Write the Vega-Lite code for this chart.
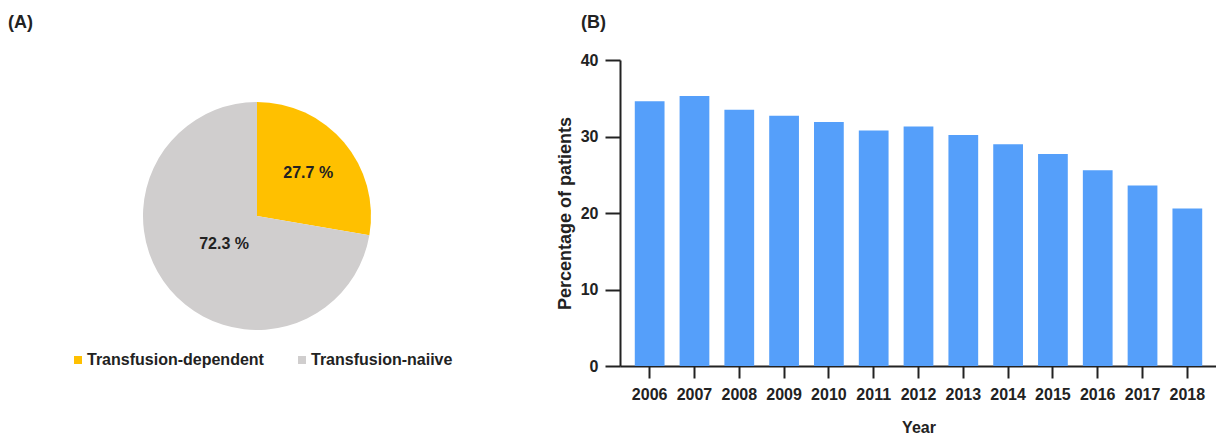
{
  "$schema": "https://vega.github.io/schema/vega-lite/v6.json",
  "padding": {"left": 8, "top": 14, "right": 0, "bottom": 0},
  "background": "white",
  "config": {
    "font": "Liberation Sans",
    "view": {"stroke": null},
    "title": {"fontSize": 18, "fontWeight": "bold", "color": "#222222", "anchor": "start", "frame": "group"}
  },
  "spacing": 50,
  "hconcat": [
    {
      "title": {"text": "(A)", "offset": 28},
      "width": 498,
      "height": 312,
      "data": {"values": [
        {"group": "Transfusion-dependent", "pct": 27.7, "label": "27.7 %", "order": 1},
        {"group": "Transfusion-naiive", "pct": 72.3, "label": "72.3 %", "order": 2}
      ]},
      "encoding": {
        "theta": {"field": "pct", "type": "quantitative", "stack": true},
        "order": {"field": "order", "type": "quantitative"}
      },
      "layer": [
        {
          "mark": {"type": "arc", "outerRadius": 114},
          "encoding": {
            "color": {
              "field": "group", "type": "nominal",
              "scale": {"domain": ["Transfusion-dependent", "Transfusion-naiive"], "range": ["#FFC000", "#D0CECE"]},
              "legend": {
                "title": null, "orient": "none", "direction": "horizontal",
                "legendX": 62, "legendY": 292,
                "symbolType": "square", "symbolSize": 64, "symbolStrokeWidth": 0,
                "labelFontSize": 16, "labelFontWeight": "bold", "labelColor": "#222222",
                "labelOffset": 1, "columnPadding": 30, "labelLimit": 300
              }
            }
          }
        },
        {
          "mark": {"type": "text", "radius": 67, "fontSize": 16, "fontWeight": "bold", "color": "#222222"},
          "encoding": {
            "text": {"condition": {"test": "datum.order === 1", "field": "label"}, "value": ""}
          }
        },
        {
          "mark": {"type": "text", "radius": 43, "fontSize": 16, "fontWeight": "bold", "color": "#222222"},
          "encoding": {
            "text": {"condition": {"test": "datum.order === 2", "field": "label"}, "value": ""}
          }
        }
      ]
    },
    {
      "title": {"text": "(B)", "offset": 20, "dx": -39},
      "width": 597,
      "height": 306,
      "data": {"values": [
        {"year": "2006", "pct": 34.6},
        {"year": "2007", "pct": 35.3},
        {"year": "2008", "pct": 33.5},
        {"year": "2009", "pct": 32.7},
        {"year": "2010", "pct": 31.9},
        {"year": "2011", "pct": 30.8},
        {"year": "2012", "pct": 31.3},
        {"year": "2013", "pct": 30.2},
        {"year": "2014", "pct": 29.0},
        {"year": "2015", "pct": 27.7},
        {"year": "2016", "pct": 25.6},
        {"year": "2017", "pct": 23.6},
        {"year": "2018", "pct": 20.6}
      ]},
      "mark": {"type": "bar", "color": "#559FFA"},
      "encoding": {
        "x": {
          "field": "year", "type": "ordinal", "title": "Year",
          "scale": {"paddingInner": 0.336, "paddingOuter": 0.33},
          "axis": {
            "labelAngle": 0, "labelFontSize": 16, "labelFontWeight": "bold", "labelColor": "#222222",
            "labelPadding": 8, "tickSize": 12, "tickWidth": 2, "tickColor": "#222222",
            "domainWidth": 2, "domainColor": "#222222",
            "titleFontSize": 16, "titleFontWeight": "bold", "titleColor": "#222222", "titlePadding": 17
          }
        },
        "y": {
          "field": "pct", "type": "quantitative", "title": "Percentage of patients",
          "scale": {"domain": [0, 40]},
          "axis": {
            "values": [0, 10, 20, 30, 40], "grid": false,
            "labelFontSize": 16, "labelFontWeight": "bold", "labelColor": "#222222",
            "labelPadding": 7, "tickSize": 15, "tickWidth": 2, "tickColor": "#222222",
            "domainWidth": 2, "domainColor": "#222222",
            "titleFontSize": 18, "titleFontWeight": "bold", "titleColor": "#222222", "titlePadding": 6
          }
        }
      }
    }
  ]
}
